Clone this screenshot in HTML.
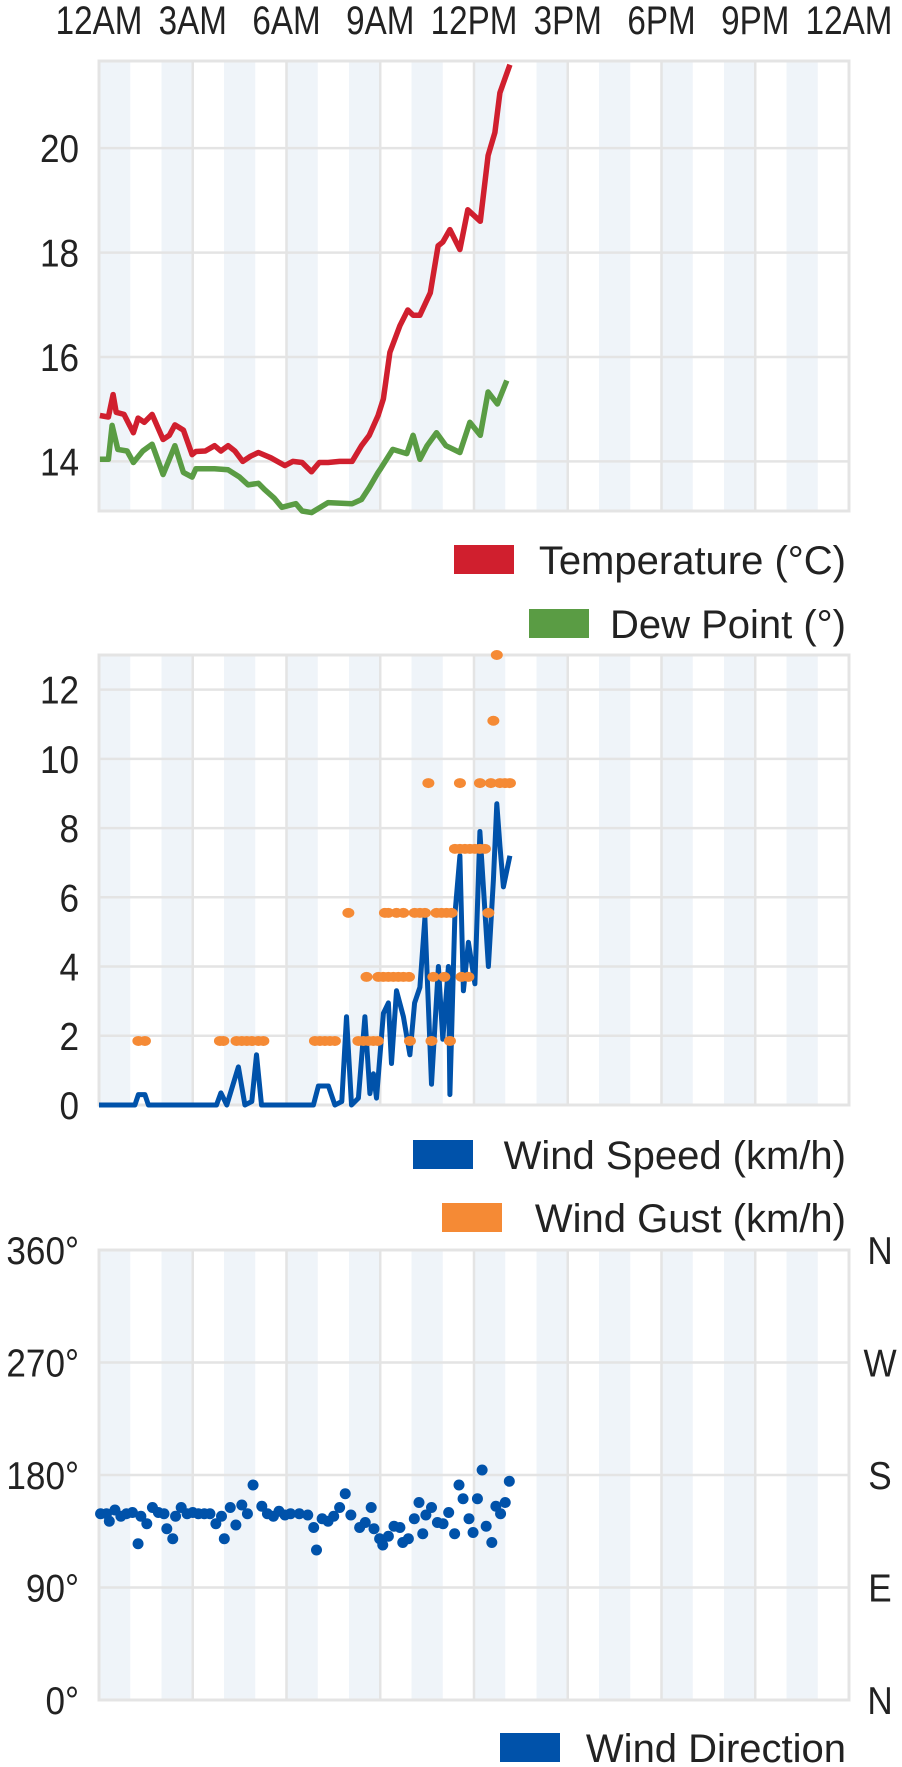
<!DOCTYPE html>
<html><head><meta charset="utf-8"><style>
html,body{margin:0;padding:0;background:#fff;}
svg{display:block;font-family:"Liberation Sans",sans-serif;}
</style></head><body>
<svg id="chart" width="902" height="1767" viewBox="0 0 902 1767" xmlns="http://www.w3.org/2000/svg"></svg>
<script>
// ---- data ----
const timeTicks = ["12AM","3AM","6AM","9AM","12PM","3PM","6PM","9PM","12AM"];
const tempHours = [0.03,0.3,0.45,0.55,0.8,1.1,1.25,1.45,1.7,2.05,2.25,2.43,2.7,2.98,3.1,3.4,3.7,3.9,4.13,4.35,4.6,4.85,5.1,5.5,5.95,6.2,6.5,6.8,7.05,7.33,7.7,8.1,8.4,8.65,8.93,9.1,9.31,9.63,9.88,10.05,10.27,10.6,10.85,11.0,11.23,11.55,11.8,12.2,12.45,12.67,12.83,13.15];
const tempValues = [14.88,14.85,15.28,14.94,14.9,14.55,14.83,14.75,14.9,14.42,14.5,14.7,14.6,14.13,14.19,14.2,14.3,14.2,14.3,14.2,14.0,14.1,14.17,14.07,13.92,14.0,13.98,13.8,13.98,13.98,14.0,14.0,14.3,14.5,14.88,15.2,16.09,16.6,16.9,16.8,16.8,17.23,18.13,18.2,18.44,18.06,18.82,18.6,19.86,20.3,21.06,21.6];
const dewHours = [0.03,0.3,0.42,0.6,0.9,1.1,1.4,1.7,2.05,2.43,2.7,2.98,3.1,3.7,4.13,4.5,4.77,5.1,5.3,5.6,5.85,6.3,6.5,6.8,7.33,8.1,8.4,8.65,8.93,9.0,9.4,9.85,10.05,10.27,10.5,10.8,11.1,11.55,11.87,12.2,12.45,12.75,13.05];
const dewValues = [14.04,14.04,14.69,14.23,14.2,13.98,14.2,14.33,13.75,14.3,13.79,13.7,13.86,13.86,13.84,13.7,13.55,13.58,13.46,13.3,13.12,13.19,13.05,13.02,13.21,13.19,13.27,13.5,13.79,13.85,14.23,14.15,14.5,14.04,14.3,14.55,14.3,14.17,14.75,14.5,15.33,15.1,15.55];
const windHours = [0,1.15,1.26,1.47,1.58,3.76,3.9,4.09,4.46,4.67,4.89,5.04,5.2,6.86,7.02,7.34,7.55,7.77,7.92,8.08,8.3,8.51,8.67,8.78,8.88,9.1,9.26,9.36,9.52,9.74,9.95,10.1,10.27,10.43,10.64,10.86,11.0,11.18,11.23,11.39,11.55,11.66,11.82,12.03,12.19,12.46,12.62,12.73,12.83,12.94,13.15];
const windValues = [0,0,0.3,0.3,0,0,0.35,0,1.1,0,0.1,1.45,0,0,0.55,0.55,0,0.1,2.55,0,0.2,2.55,0.33,0.9,0.2,2.65,2.95,1.2,3.3,2.55,1.45,2.95,3.4,5.4,0.6,4.0,1.9,4.0,0.3,5.5,7.2,3.3,4.7,3.5,7.9,4.0,6.5,8.7,7.5,6.3,7.2];
const gustHours = [1.26,1.47,3.87,3.98,4.4,4.57,4.73,4.89,5.1,5.26,6.91,7.07,7.23,7.39,7.55,8.3,8.46,8.62,8.78,8.92,9.95,10.64,11.23,8.56,8.94,9.1,9.26,9.42,9.58,9.74,9.92,10.7,11.05,11.6,11.82,7.98,9.15,9.26,9.52,9.74,10.1,10.27,10.43,10.8,10.96,11.12,11.28,12.46,11.39,11.55,11.71,11.87,12.03,12.19,12.35,10.54,11.55,12.19,12.54,12.83,12.99,13.15,12.62,12.73];
const gustValues = [1.85,1.85,1.85,1.85,1.85,1.85,1.85,1.85,1.85,1.85,1.85,1.85,1.85,1.85,1.85,1.85,1.85,1.85,1.85,1.85,1.85,1.85,1.85,3.7,3.7,3.7,3.7,3.7,3.7,3.7,3.7,3.7,3.7,3.7,3.7,5.55,5.55,5.55,5.55,5.55,5.55,5.55,5.55,5.55,5.55,5.55,5.55,5.55,7.4,7.4,7.4,7.4,7.4,7.4,7.4,9.3,9.3,9.3,9.3,9.3,9.3,9.3,11.1,13.0];
const dirPx = [175,185,190,200,210,220,230,240,245,255,265,275,285,290,300,305,315,325,335,345,355,365,375,385,390,400,410,420,430,440,455,465,475,485,495,505,520,535,545,550,560,570,580,590,600,610,625,635,645,650,660,665,675,685,695,700,710,720,728,735,740,750,760,770,780,790,798,805,815,822,830,838,845,855,862,870,878,885];
const dirHours = dirPx.map(p => Math.round(((p/1.738 - 99)/31.25)*100)/100);
const dirValues = [149,149,143,152,147,149,150,125,147,141,154,150,149,137,129,147,154,149,150,149,149,149,141,147,129,154,140,156,149,172,155,149,147,151,148,149,149,148,138,120,145,143,147,154,165,148,138,142,154,137,129,124,131,139,138,126,129,145,158,133,148,154,142,141,150,133,172,161,145,134,161,184,139,126,155,149,158,175];
const tempTicks = [14,16,18,20];
const windTicks = [0,2,4,6,8,10,12];
const dirTicks = [0,90,180,270,360];
const dirLetters = ["N","E","S","W","N"];

// ---- layout ----
const NS = "http://www.w3.org/2000/svg";
const svg = document.getElementById("chart");
const X0 = 99, X1 = 849;
const xScale = h => X0 + (X1 - X0) * h / 24;
function mk(tag, attrs, parent) {
  const e = document.createElementNS(NS, tag);
  for (const k in attrs) e.setAttribute(k, attrs[k]);
  (parent || svg).appendChild(e);
  return e;
}
function txt(s, attrs, parent) { const e = mk("text", attrs, parent); e.textContent = s; return e; }
function ctxt(s, x, y, size, anchor, sx, parent) {
  return txt(s, {x: 0, y: 0, transform: `translate(${x},${y}) scale(${sx},1)`, "font-size": size, "text-anchor": anchor, fill: "#222"}, parent);
}

// top time labels
timeTicks.forEach((t, i) => {
  const e = ctxt(t, xScale(i*3), 34, 40, "middle", 0.83);
  
  
});

function panel(name, top, bottom, yMin, yMax, ticks, labelFn) {
  const g = mk("g", {});
  
  
  const y = v => bottom - (bottom - top) * (v - yMin) / (yMax - yMin);
  for (let h = 0; h < 24; h += 2) {
    const b = mk("rect", {x: xScale(h), y: top, width: xScale(1) - X0, height: bottom - top, fill: "#eff4f9"}, g);
    
    
  }
  for (let i = 0; i <= 8; i++) {
    const l = mk("line", {x1: xScale(i*3), x2: xScale(i*3), y1: top, y2: bottom, stroke: "#e4e4e4", "stroke-width": 2.5}, g);
    
    
  }
  ticks.forEach((t, i) => {
    const l = mk("line", {x1: X0, x2: X1, y1: y(t), y2: y(t), stroke: "#e4e4e4", "stroke-width": 2.5}, g);
    
    
    const lab = ctxt(labelFn(t), 79, y(t) + 14, 39, "end", 0.9, g);
    
    
  });
  const r = mk("rect", {x: X0, y: top, width: X1 - X0, height: bottom - top, fill: "none", stroke: "#e4e4e4", "stroke-width": 3}, g);
  
  
  return {g, y};
}
function line(p, hs, vs, color, w, name) {
  const d = hs.map((h, i) => (i ? "L" : "M") + xScale(h).toFixed(1) + "," + p.y(vs[i]).toFixed(1)).join(" ");
  const e = mk("path", {d, fill: "none", stroke: color, "stroke-width": w, "stroke-linejoin": "round"}, p.g);
  
  
}
function dots(p, hs, vs, color, rx, ry, name) {
  hs.forEach((h, i) => {
    const e = mk("ellipse", {cx: xScale(h), cy: p.y(vs[i]), rx, ry, fill: color}, p.g);
    
    
  });
}
function legend(label, color, swX, baseline, name) {
  const g = mk("g", {});
  
  
  mk("rect", {x: swX, y: baseline - 29, width: 60, height: 29, fill: color}, g);
  txt(label, {x: 846, y: baseline, "font-size": 40, "text-anchor": "end", fill: "#222"}, g);
}

// Panel 1: temperature / dew point
const p1 = panel("temperature-panel", 61, 511, 13.05, 21.67, tempTicks, t => String(t));
line(p1, tempHours, tempValues, "#d01f2e", 5.5, "temperature-line");
line(p1, dewHours, dewValues, "#5a9c44", 5.5, "dew-point-line");
legend("Temperature (°C)", "#d01f2e", 454, 574, "legend-temperature");
legend("Dew Point (°)", "#5a9c44", 529, 638, "legend-dew-point");

// Panel 2: wind
const p2 = panel("wind-panel", 655, 1105, 0, 13.0, windTicks, t => String(t));
line(p2, windHours, windValues, "#0052aa", 5, "wind-speed-line");
dots(p2, gustHours, gustValues, "#f58a35", 6, 5, "wind-gust-dot");
legend("Wind Speed (km/h)", "#0052aa", 413, 1169, "legend-wind-speed");
legend("Wind Gust (km/h)", "#f58a35", 442, 1232, "legend-wind-gust");

// Panel 3: wind direction
const p3 = panel("wind-direction-panel", 1250, 1700, 0, 360, dirTicks, t => t + "°");
dirTicks.forEach((t, i) => {
  const e = ctxt(dirLetters[i], 880, p3.y(t) + 14, 39, "middle", 0.9, p3.g);
  
  
});
dots(p3, dirHours, dirValues, "#0052aa", 5.5, 5.5, "wind-direction-dot");
legend("Wind Direction", "#0052aa", 500, 1762, "legend-wind-direction");
</script>
</body></html>
